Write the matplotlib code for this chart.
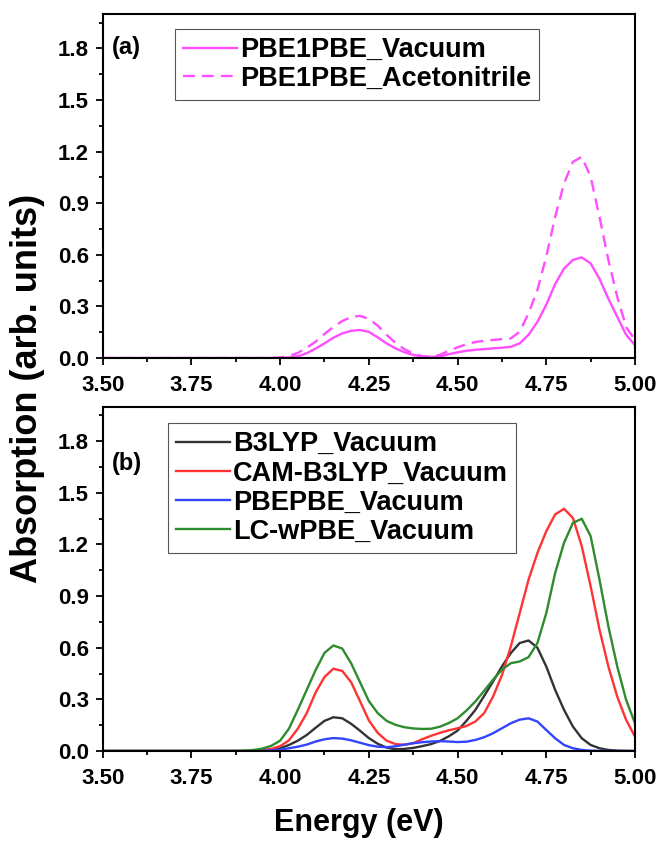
import numpy as np
import matplotlib
matplotlib.use('Agg')
import matplotlib.pyplot as plt
from matplotlib.ticker import MultipleLocator, FormatStrFormatter

plt.rcParams['font.family'] = ['Liberation Sans', 'DejaVu Sans']
plt.rcParams['font.weight'] = 'bold'

# energy grid 3.500 ... 5.000 eV, step 0.025 (61 points)
energy = np.linspace(3.5, 5.0, 61)

z16 = [0.0] * 16  # 3.500 - 3.875

# (a) PBE1PBE
pbe1pbe_vac = z16 + [
    0.0, 0.0, 0.0, 0.0,                               # 3.900 - 3.975
    0.0, 0.003, 0.010, 0.028, 0.055, 0.085, 0.118, 0.143,  # 4.000 - 4.175
    0.158, 0.163, 0.152, 0.120, 0.085, 0.056, 0.034, 0.018,  # 4.200 - 4.375
    0.009, 0.006, 0.010, 0.022, 0.033, 0.042, 0.048, 0.052,  # 4.400 - 4.575
    0.056, 0.060, 0.065, 0.085, 0.135, 0.210, 0.310, 0.430,  # 4.600 - 4.775
    0.520, 0.570, 0.585, 0.550, 0.460, 0.345, 0.240, 0.135,  # 4.800 - 4.975
    0.075]
pbe1pbe_acn = z16 + [
    0.0, 0.0, 0.0, 0.0,
    0.003, 0.011, 0.030, 0.060, 0.095, 0.140, 0.180, 0.215,
    0.238, 0.245, 0.228, 0.188, 0.135, 0.088, 0.052, 0.026,
    0.011, 0.007, 0.018, 0.042, 0.062, 0.080, 0.093, 0.100,
    0.105, 0.110, 0.114, 0.153, 0.260, 0.395, 0.590, 0.820,
    1.015, 1.140, 1.170, 1.054, 0.820, 0.570, 0.356, 0.180,
    0.105]

# (b) vacuum, different functionals
b3lyp = z16 + [
    0.0, 0.001, 0.003, 0.007,
    0.016, 0.035, 0.060, 0.093, 0.135, 0.175, 0.196, 0.190,
    0.158, 0.118, 0.075, 0.042, 0.020, 0.010, 0.012, 0.018,
    0.028, 0.040, 0.058, 0.085, 0.118, 0.175, 0.238, 0.320,
    0.404, 0.491, 0.569, 0.627, 0.642, 0.600, 0.491, 0.355,
    0.239, 0.142, 0.074, 0.035, 0.016, 0.006, 0.002, 0.001,
    0.0]
cam_b3lyp = z16 + [
    0.0, 0.002, 0.005, 0.012,
    0.028, 0.062, 0.130, 0.220, 0.340, 0.430, 0.478, 0.465,
    0.400, 0.290, 0.178, 0.105, 0.060, 0.040, 0.036, 0.045,
    0.068, 0.088, 0.105, 0.120, 0.132, 0.145, 0.171, 0.220,
    0.316, 0.440, 0.607, 0.800, 0.995, 1.150, 1.277, 1.374,
    1.407, 1.354, 1.190, 0.957, 0.705, 0.491, 0.316, 0.181,
    0.083]
pbepbe = z16 + [
    0.0, 0.001, 0.002, 0.004,
    0.008, 0.016, 0.025, 0.037, 0.055, 0.068, 0.075, 0.072,
    0.062, 0.048, 0.034, 0.025, 0.022, 0.027, 0.037, 0.045,
    0.051, 0.055, 0.057, 0.055, 0.052, 0.054, 0.064, 0.080,
    0.103, 0.132, 0.161, 0.182, 0.190, 0.171, 0.122, 0.074,
    0.035, 0.016, 0.006, 0.002, 0.001, 0.0, 0.0, 0.0,
    0.0]
lc_wpbe = z16 + [
    0.002, 0.006, 0.014, 0.030,
    0.060, 0.130, 0.240, 0.355, 0.470, 0.570, 0.613, 0.595,
    0.510, 0.400, 0.290, 0.220, 0.175, 0.152, 0.138, 0.131,
    0.128, 0.129, 0.141, 0.162, 0.190, 0.235, 0.287, 0.350,
    0.414, 0.472, 0.510, 0.520, 0.545, 0.627, 0.801, 1.034,
    1.209, 1.325, 1.349, 1.248, 0.995, 0.724, 0.491, 0.297,
    0.161]

magenta = '#ff4dff'
lw = 1.7

fig = plt.figure(figsize=(6.57, 8.44), dpi=100)
ax1 = fig.add_axes([0.1563, 0.5758, 0.8102, 0.4076])
ax2 = fig.add_axes([0.1563, 0.1102, 0.8102, 0.4079])

ax1.plot(energy, pbe1pbe_vac, color=magenta, lw=lw, label='PBE1PBE_Vacuum')
ax1.plot(energy, pbe1pbe_acn, color=magenta, lw=lw, dashes=(5, 3),
         label='PBE1PBE_Acetonitrile')

ax2.plot(energy, b3lyp, color='#333333', lw=lw, label='B3LYP_Vacuum')
ax2.plot(energy, cam_b3lyp, color='#ff3333', lw=lw, label='CAM-B3LYP_Vacuum')
ax2.plot(energy, pbepbe, color='#3344ff', lw=lw, label='PBEPBE_Vacuum')
ax2.plot(energy, lc_wpbe, color='#2e8b2e', lw=lw, label='LC-wPBE_Vacuum')

for ax in (ax1, ax2):
    ax.set_xlim(3.5, 5.0)
    ax.set_ylim(0, 2.0)
    ax.xaxis.set_major_locator(MultipleLocator(0.25))
    ax.xaxis.set_minor_locator(MultipleLocator(0.125))
    ax.yaxis.set_major_locator(MultipleLocator(0.3))
    ax.yaxis.set_minor_locator(MultipleLocator(0.15))
    ax.xaxis.set_major_formatter(FormatStrFormatter('%.2f'))
    ax.yaxis.set_major_formatter(FormatStrFormatter('%.1f'))
    ax.tick_params(which='both', direction='out', top=False, right=False, width=1.3)
    ax.tick_params(which='major', length=5, labelsize=16)
    ax.tick_params(which='minor', length=3)
    ax.tick_params(axis='x', pad=7)
    ax.tick_params(axis='y', pad=5)
    for s in ax.spines.values():
        s.set_linewidth(1.5)

leg_kw = dict(loc='upper left', borderaxespad=0, fancybox=False, framealpha=1,
              edgecolor='#555555', prop={'size': 19.5, 'weight': 'bold'},
              handlelength=2.0, handletextpad=0.1, borderpad=0.3)
l1 = ax1.legend(bbox_to_anchor=(0.136, 0.956), labelspacing=0.08, **leg_kw)
l2 = ax2.legend(bbox_to_anchor=(0.1227, 0.9527), labelspacing=0.12, **leg_kw)
for l in (l1, l2):
    l.get_frame().set_linewidth(0.8)

ax1.text(0.018, 0.904, '(a)', transform=ax1.transAxes, fontsize=17,
         fontweight='bold', va='center')
ax2.text(0.018, 0.8365, '(b)', transform=ax2.transAxes, fontsize=17,
         fontweight='bold', va='center')

fig.text(28 / 657, 1 - 388 / 844, 'Absorption (arb. units)', rotation=90,
         ha='center', va='center', fontsize=26, fontweight='bold')
fig.text(359 / 657, 1 - 823 / 844, 'Energy (eV)', ha='center', va='center',
         fontsize=22, fontweight='bold')

fig.savefig('out.png', dpi=100)
